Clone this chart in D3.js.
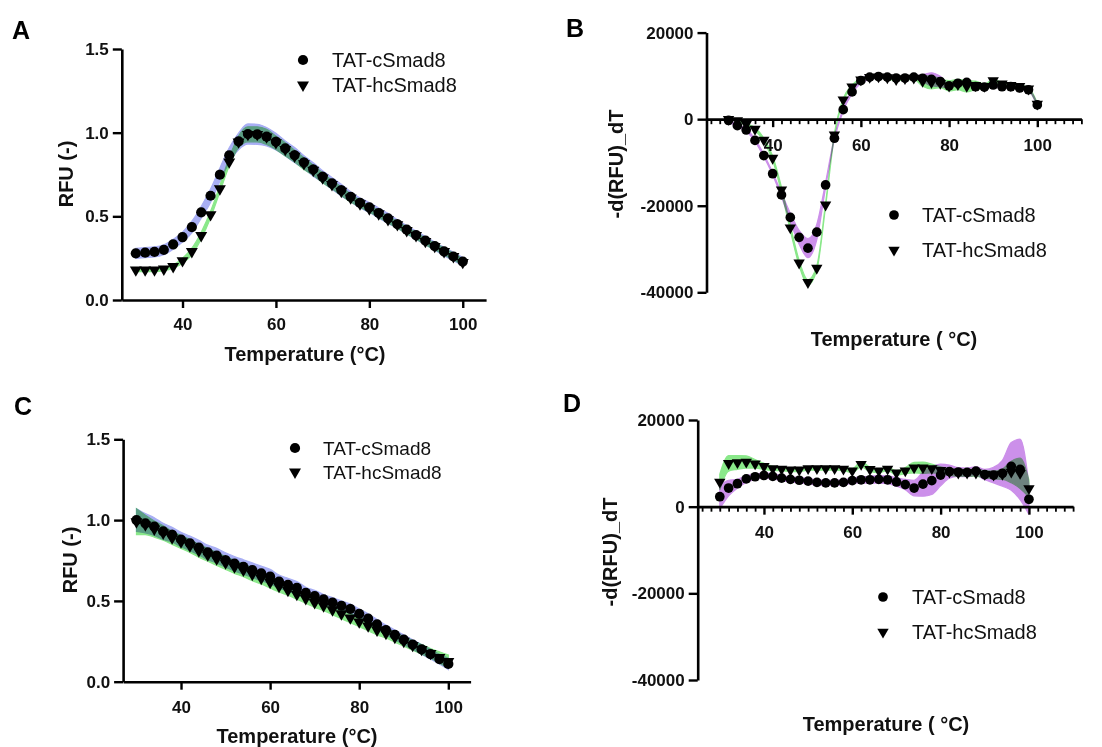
<!DOCTYPE html>
<html><head><meta charset="utf-8">
<script src="https://cdn.jsdelivr.net/npm/d3@7"></script>
<style>
body{margin:0;background:#fff;}
svg{display:block;background:#fff;}
text{font-family:"Liberation Sans",Arial,sans-serif;}
</style>
</head><body>
<svg id="chart" width="1102" height="747"></svg>
<script>
// ---------- DATA ----------
const temps = [30,32,34,36,38,40,42,44,46,48,50,52,54,56,58,60,62,64,66,68,70,72,74,76,78,80,82,84,86,88,90,92,94,96,98,100];
const seriesNames = ["TAT-cSmad8", "TAT-hcSmad8"];
const xTicks = [40, 60, 80, 100];
const rfuTicks = [0, 0.5, 1.0, 1.5];
const derivTicks = [-40000, -20000, 0, 20000];

// Panel A: melt curve, RFU (normalised)
const A_c_mean = [0.279,0.283,0.287,0.30,0.333,0.376,0.436,0.524,0.623,0.749,0.865,0.948,0.992,0.99,0.976,0.946,0.906,0.866,0.823,0.78,0.737,0.697,0.657,0.617,0.58,0.553,0.52,0.488,0.454,0.42,0.388,0.355,0.322,0.29,0.26,0.23];
const A_c_sd   = [0.03,0.03,0.03,0.03,0.03,0.03,0.035,0.035,0.04,0.04,0.045,0.05,0.06,0.06,0.055,0.05,0.045,0.045,0.04,0.04,0.035,0.035,0.035,0.03,0.03,0.03,0.03,0.03,0.025,0.025,0.025,0.025,0.025,0.025,0.025,0.025];
const A_h_mean = [0.18,0.18,0.18,0.185,0.20,0.235,0.29,0.385,0.51,0.665,0.825,0.945,0.99,0.99,0.975,0.94,0.90,0.86,0.815,0.775,0.73,0.69,0.65,0.61,0.575,0.545,0.515,0.48,0.45,0.415,0.385,0.35,0.32,0.29,0.26,0.225];
const A_h_sd   = [0.01,0.01,0.01,0.01,0.01,0.015,0.02,0.02,0.02,0.02,0.025,0.035,0.045,0.045,0.045,0.04,0.04,0.035,0.035,0.03,0.03,0.025,0.025,0.025,0.02,0.02,0.02,0.02,0.02,0.02,0.02,0.02,0.02,0.02,0.02,0.02];

// Panel B: derivative -d(RFU)/dT
const B_c_mean = [-300,-1500,-2500,-4900,-8400,-12600,-17500,-22700,-27300,-29800,-26100,-15200,-4400,2200,6300,8900,9700,9850,9700,9500,9500,9700,9450,9200,8700,7700,8300,8500,7500,7400,7900,7500,7500,7200,6800,3300];
const B_c_sd   = [300,300,300,300,300,300,500,1000,1600,2200,1800,600,300,300,400,600,500,400,300,300,300,300,800,1500,1200,400,300,300,300,300,300,300,300,300,300,300];
const B_h_mean = [0,-300,-1200,-2300,-4800,-9000,-16300,-25100,-33200,-37700,-34400,-19800,-3600,4500,7500,9100,9700,9800,9600,9200,9400,9500,8800,8500,8300,7700,8000,7600,7800,7600,8900,8200,7800,7600,7000,3500];
const B_h_sd   = [200,200,200,300,400,500,600,600,600,600,500,400,300,300,400,400,300,300,300,300,300,300,1200,1500,1000,1200,1200,1300,1000,500,300,300,300,300,300,300];

// Panel C: RFU (normalised)
const C_c_mean = [1.00,0.98,0.96,0.93,0.91,0.88,0.856,0.83,0.80,0.78,0.753,0.73,0.71,0.69,0.67,0.65,0.62,0.60,0.58,0.55,0.53,0.51,0.49,0.47,0.45,0.42,0.39,0.355,0.32,0.29,0.26,0.23,0.20,0.17,0.14,0.11];
const C_c_sd   = [0.07,0.06,0.055,0.05,0.045,0.045,0.045,0.045,0.045,0.045,0.045,0.045,0.045,0.045,0.045,0.045,0.04,0.04,0.04,0.035,0.035,0.03,0.03,0.03,0.03,0.03,0.03,0.03,0.03,0.03,0.03,0.03,0.03,0.03,0.03,0.035];
const C_h_mean = [0.99,0.97,0.945,0.92,0.89,0.865,0.84,0.81,0.785,0.76,0.735,0.71,0.69,0.665,0.64,0.615,0.59,0.565,0.54,0.515,0.49,0.47,0.445,0.42,0.395,0.37,0.345,0.32,0.30,0.275,0.25,0.225,0.20,0.175,0.15,0.125];
const C_h_sd   = [0.08,0.06,0.05,0.045,0.04,0.04,0.04,0.04,0.04,0.04,0.04,0.04,0.04,0.04,0.035,0.035,0.035,0.03,0.03,0.03,0.03,0.03,0.03,0.03,0.03,0.03,0.03,0.03,0.03,0.03,0.03,0.03,0.03,0.03,0.035,0.04];

// Panel D: derivative -d(RFU)/dT
const D_c_mean = [2300,4300,5300,6400,6900,7200,7000,6600,6300,6100,5900,5600,5500,5500,5600,6000,6200,6200,6300,6200,5700,5100,4300,5200,6000,7300,8100,8000,7900,8200,7400,7300,7700,9300,8600,1700];
const D_c_sd   = [2800,1800,1000,800,600,600,600,600,600,600,600,600,600,600,600,600,700,800,900,900,1000,1200,1800,2800,3200,2500,1500,1000,1000,1000,1200,1800,3000,5500,7000,3500];
const D_h_mean = [5700,10000,10200,10300,9900,9300,8800,8700,8500,8500,8800,8800,8800,8800,8700,8300,9800,8600,8300,8700,7800,8300,9000,9000,8800,8400,8000,7800,7800,7800,7500,7300,7500,8000,7700,4200];
const D_h_sd   = [1800,1800,1600,1400,1000,700,500,400,400,400,400,400,400,400,400,500,600,500,400,400,500,700,1200,1300,1000,800,800,800,800,800,800,900,1200,2500,3500,2000];

// ---------- DRAWING ----------
const svg = d3.select("#chart");
const BLUE = "#a8aef4", PURPLE = "#cc90ea", GREEN = "#8ae88a";

function drawPanel(p) {
  const g = svg.append("g");
  const x = d3.scaleLinear().domain(p.xd).range(p.xr);
  const y = d3.scaleLinear().domain(p.yd).range(p.yr);
  const axisY = y(p.xAxisAt);

  // x axis
  const xa = g.append("g").attr("transform", `translate(0,${axisY})`)
    .call(d3.axisBottom(x).tickValues(xTicks).tickSize(8).tickSizeOuter(0).tickPadding(p.xPad));
  if (p.minor) {
    g.append("g").attr("transform", `translate(0,${axisY})`)
      .call(d3.axisBottom(x).tickValues(p.minor.filter(v => xTicks.indexOf(v) < 0)).tickSize(5).tickFormat(""))
      .call(s => s.select(".domain").remove())
      .selectAll("line").attr("stroke-width", 1.8);
  }
  // y axis
  const ya = g.append("g").attr("transform", `translate(${p.xr[0]},0)`)
    .call(d3.axisLeft(y).tickValues(p.yTicks).tickSize(9).tickSizeOuter(0).tickPadding(4).tickFormat(p.yFmt));
  [xa, ya].forEach(a => {
    a.select(".domain").attr("stroke-width", 2.6);
    a.selectAll(".tick line").attr("stroke-width", 2.4);
    a.selectAll(".tick text").attr("font-size", 17).attr("font-weight", "bold")
      .attr("font-family", "Liberation Sans, Arial, sans-serif").attr("fill", "#111");
  });

  // bands
  p.series.forEach(s => {
    const area = d3.area()
      .x((d, i) => x(temps[i]))
      .y0((d, i) => y(d - s.sd[i]))
      .y1((d, i) => y(d + s.sd[i]))
      .curve(d3.curveMonotoneX);
    g.append("path").attr("d", area(s.mean))
      .attr("fill", s.color).attr("stroke", s.color).attr("stroke-width", 1.2)
      .style("mix-blend-mode", "multiply");
  });

  // markers
  const circ = d3.symbol().type(d3.symbolCircle).size(p.cSize);
  const tri = d3.symbol().type(d3.symbolTriangle).size(p.tSize);
  p.series.forEach((s, k) => {
    g.append("g").selectAll("path").data(s.mean).join("path")
      .attr("d", k === 0 ? circ : tri)
      .attr("transform", (d, i) => `translate(${x(temps[i])},${y(d)})` + (k === 1 ? " rotate(180)" : ""))
      .attr("fill", "#000");
  });

  // titles
  g.append("text").attr("x", p.xt[0]).attr("y", p.xt[1])
    .attr("text-anchor", "middle").attr("dominant-baseline", "central")
    .attr("font-size", 20).attr("font-weight", "bold").attr("fill", "#111").text(p.xTitle);
  g.append("text").attr("transform", `translate(${p.yt[0]},${p.yt[1]}) rotate(-90)`)
    .attr("text-anchor", "middle").attr("dominant-baseline", "central")
    .attr("font-size", 20).attr("font-weight", "bold").attr("fill", "#111").text(p.yTitle);

  // panel letter
  g.append("text").attr("x", p.letterPos[0]).attr("y", p.letterPos[1])
    .attr("font-size", 25).attr("font-weight", "bold").attr("fill", "#000").text(p.letter);

  // legend
  seriesNames.forEach((nm, k) => {
    const ly = p.leg[1] + k * p.leg[3];
    g.append("path").attr("d", k === 0 ? circ() : tri())
      .attr("transform", `translate(${p.leg[0]},${ly})` + (k === 1 ? " rotate(180)" : ""))
      .attr("fill", "#000");
    g.append("text").attr("x", p.leg[2]).attr("y", ly).attr("dominant-baseline", "central")
      .attr("font-size", p.legFont).attr("fill", "#111").text(nm);
  });
}

const minorTicks = d3.range(26, 111, 2);
const fmt1 = d3.format(".1f");
const fmtInt = d => String(d);

drawPanel({
  letter: "A", letterPos: [12, 39],
  xd: [27, 105], xr: [121.8, 486.1], yd: [0, 1.5], yr: [300, 49], xAxisAt: 0,
  yTicks: rfuTicks, yFmt: fmt1, xPad: 10,
  series: [{mean: A_c_mean, sd: A_c_sd, color: BLUE}, {mean: A_h_mean, sd: A_h_sd, color: GREEN}],
  cSize: 82, tSize: 62,
  xTitle: "Temperature (°C)", xt: [305, 354], yTitle: "RFU (-)", yt: [66, 174],
  leg: [303, 60, 332, 25], legFont: 20
});
drawPanel({
  letter: "B", letterPos: [566, 37],
  xd: [25, 110], xr: [706.5, 1081.4], yd: [-40000, 20000], yr: [292.3, 32.6], xAxisAt: 0,
  yTicks: derivTicks, yFmt: fmtInt, xPad: 12, minor: minorTicks,
  series: [{mean: B_c_mean, sd: B_c_sd, color: PURPLE}, {mean: B_h_mean, sd: B_h_sd, color: GREEN}],
  cSize: 74, tSize: 56,
  xTitle: "Temperature ( °C)", xt: [894, 339], yTitle: "-d(RFU)_dT", yt: [616, 164],
  leg: [894, 215, 922, 35], legFont: 20
});
drawPanel({
  letter: "C", letterPos: [14, 415],
  xd: [27, 105], xr: [123.1, 470.6], yd: [0, 1.5], yr: [681.7, 439.3], xAxisAt: 0,
  yTicks: rfuTicks, yFmt: fmt1, xPad: 11,
  series: [{mean: C_c_mean, sd: C_c_sd, color: BLUE}, {mean: C_h_mean, sd: C_h_sd, color: GREEN}],
  cSize: 82, tSize: 62,
  xTitle: "Temperature (°C)", xt: [297, 736], yTitle: "RFU (-)", yt: [70, 560],
  leg: [295, 448, 323, 24], legFont: 19
});
drawPanel({
  letter: "D", letterPos: [563, 412],
  xd: [25, 110], xr: [697.7, 1073.1], yd: [-40000, 20000], yr: [680, 420], xAxisAt: 0,
  yTicks: derivTicks, yFmt: fmtInt, xPad: 11, minor: minorTicks,
  series: [{mean: D_c_mean, sd: D_c_sd, color: PURPLE}, {mean: D_h_mean, sd: D_h_sd, color: GREEN}],
  cSize: 74, tSize: 56,
  xTitle: "Temperature ( °C)", xt: [886, 724], yTitle: "-d(RFU)_dT", yt: [610, 552],
  leg: [883, 597, 912, 35], legFont: 20
});
</script>
</body></html>
